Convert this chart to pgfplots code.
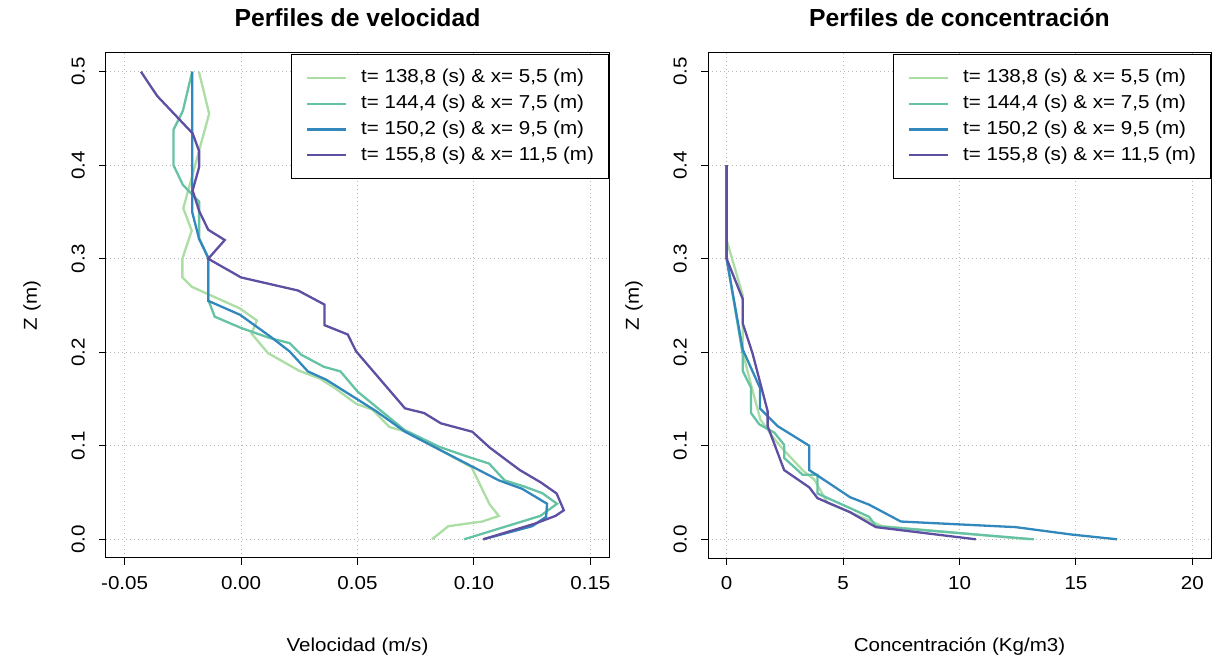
\documentclass[border=0pt]{standalone}
\usepackage{fontspec}
\setmainfont{Liberation Sans}[FakeStretch=1.1]
\newfontfamily\titlefont{Liberation Sans}
\usepackage{pgfplots}
\pgfplotsset{compat=1.18}
\definecolor{c1}{HTML}{ABDDA4}
\definecolor{c2}{HTML}{66C2A5}
\definecolor{c3}{HTML}{3288BD}
\definecolor{c4}{HTML}{5E4FA2}
\definecolor{gridc}{HTML}{B8B8B8}
\newcommand{\fs}{\fontsize{18.7bp}{22bp}\selectfont}
\pgfplotsset{
 rpanel/.style={
  scale only axis, width=503bp, height=505bp,
  anchor=south west,
  axis line style={line width=1bp, black},
  tick pos=left, tick align=outside,
  major tick length=7bp,
  tick style={line width=1bp, black},
  ymin=-0.02, ymax=0.52,
  ytick={0,0.1,0.2,0.3,0.4,0.5},
  yticklabels={0.0,0.1,0.2,0.3,0.4,0.5},
  grid=major,
  major grid style={line width=1.1bp, gridc, dash pattern=on 1.4bp off 2.6bp},
  tick label style={font=\fs, inner sep=0pt},
  xticklabel style={anchor=north},
  yticklabel style={rotate=90, anchor=south},
  xticklabel shift=11bp, yticklabel shift=14bp,
  label style={font=\fs},
  xlabel style={at={(axis description cs:0.5,-0.1762)}, anchor=center},
  ylabel style={at={(axis description cs:-0.1471,0.5)}, anchor=center},
  title style={font=\titlefont\fontsize{24.7bp}{29bp}\selectfont\bfseries, at={(axis description cs:0.5,1.0574)}, anchor=center},
  legend style={at={(axis description cs:1,1)}, anchor=north east, yshift=-1.5bp, draw=black, line width=1bp, fill=white, inner xsep=14.5bp, inner ysep=14bp, font=\fs, row sep=7.7bp, column sep=14bp, nodes={inner sep=0pt, text height=14bp, text depth=4bp}},
  legend cell align=left,
  legend image code/.code={\draw[#1] (0bp,0bp) -- (39bp,0bp);},
 }
}
\begin{document}
\begin{tikzpicture}
\useasboundingbox (0,0) rectangle (1215bp,659bp);
\begin{axis}[rpanel, at={(106bp,101bp)},
  xmin=-0.058, xmax=0.158,
  xtick={-0.05,0,0.05,0.1,0.15},
  xticklabels={-0.05,0.00,0.05,0.10,0.15},
  xlabel={Velocidad (m/s)}, ylabel={Z (m)},
  title={Perfiles de velocidad}]
\addplot[c1, line width=2.3bp, no markers] coordinates {
(-0.0181,0.500) (-0.0137,0.455) (-0.0248,0.354) (-0.0212,0.330) (-0.0252,0.300)
(-0.0252,0.280) (-0.0212,0.270) (-0.0006,0.247) (0.0068,0.234) (0.0045,0.220)
(0.0116,0.199) (0.0251,0.180) (0.0337,0.172) (0.0401,0.162) (0.0494,0.145)
(0.0565,0.1385) (0.0637,0.120) (0.0710,0.115) (0.0990,0.077) (0.1068,0.037)
(0.1107,0.025) (0.1036,0.019) (0.0890,0.014) (0.0820,0.000)};
\addlegendentry{{t= 138,8 (s) \& x= 5,5 (m)}}
\addplot[c2, line width=2.3bp, no markers] coordinates {
(-0.021,0.500) (-0.025,0.458) (-0.029,0.438) (-0.029,0.400) (-0.025,0.379)
(-0.018,0.361) (-0.018,0.322) (-0.0141,0.301) (-0.0141,0.256) (-0.0113,0.238)
(0.0000,0.226) (0.0123,0.2152) (0.0208,0.2098) (0.0259,0.1973) (0.0355,0.1845)
(0.0427,0.1795) (0.0500,0.158) (0.0701,0.117) (0.0850,0.099) (0.0965,0.089)
(0.1065,0.081) (0.1132,0.063) (0.1215,0.0565) (0.1293,0.0494) (0.1357,0.038)
(0.1285,0.025) (0.0958,0.000)};
\addlegendentry{{t= 144,4 (s) \& x= 7,5 (m)}}
\addplot[c3, line width=2.3bp, no markers] coordinates {
(-0.021,0.500) (-0.021,0.350) (-0.018,0.321) (-0.0141,0.301) (-0.0141,0.255)
(-0.0004,0.240) (0.0130,0.216) (0.0208,0.201) (0.0287,0.1795) (0.0366,0.1706)
(0.0580,0.137) (0.0704,0.115) (0.1107,0.063) (0.1207,0.054) (0.1314,0.038)
(0.1310,0.024) (0.1250,0.014) (0.1040,0.000)};
\addlegendentry{{t= 150,2 (s) \& x= 9,5 (m)}}
\addplot[c4, line width=2.3bp, no markers] coordinates {
(-0.043,0.500) (-0.036,0.474) (-0.0208,0.434) (-0.018,0.415) (-0.018,0.398)
(-0.0208,0.373) (-0.018,0.351) (-0.0141,0.331) (-0.007,0.320) (-0.0141,0.300)
(0.0000,0.280) (0.0245,0.266) (0.0358,0.251) (0.0358,0.229) (0.0458,0.219)
(0.0494,0.201) (0.0704,0.140) (0.0786,0.135) (0.0858,0.124) (0.0993,0.115)
(0.1068,0.098) (0.1197,0.074) (0.1286,0.061) (0.1355,0.049) (0.1386,0.031)
(0.1350,0.025) (0.1265,0.017) (0.1040,0.000)};
\addlegendentry{{t= 155,8 (s) \& x= 11,5 (m)}}
\end{axis}
\begin{axis}[rpanel, at={(708bp,101bp)},
  xmin=-0.8, xmax=20.8,
  xtick={0,5,10,15,20},
  xticklabels={0,5,10,15,20},
  xlabel={Concentración (Kg/m3)}, ylabel={Z (m)},
  title={Perfiles de concentración}]
\addplot[c1, line width=2.3bp, no markers] coordinates {
(0,0.400) (0,0.320) (0.69,0.261) (0.69,0.200) (1.05,0.165) (1.45,0.128)
(2.12,0.105) (2.47,0.095) (3.30,0.073) (3.76,0.064) (4.33,0.039) (6.05,0.021)
(6.69,0.014) (13.0,0.000)};
\addlegendentry{{t= 138,8 (s) \& x= 5,5 (m)}}
\addplot[c2, line width=2.3bp, no markers] coordinates {
(0,0.400) (0,0.300) (0.69,0.198) (0.69,0.180) (1.05,0.162) (1.05,0.135)
(1.40,0.123) (2.05,0.114) (2.47,0.101) (2.47,0.087) (3.26,0.069) (3.90,0.069)
(3.90,0.049) (5.33,0.033) (6.12,0.024) (6.41,0.014) (13.19,0.000)};
\addlegendentry{{t= 144,4 (s) \& x= 7,5 (m)}}
\addplot[c3, line width=2.3bp, no markers] coordinates {
(0,0.400) (0,0.300) (0.69,0.203) (1.43,0.162) (1.43,0.140) (2.19,0.121)
(3.55,0.100) (3.55,0.074) (5.30,0.045) (6.12,0.037) (7.48,0.019) (12.41,0.013)
(14.84,0.005) (16.77,0.000)};
\addlegendentry{{t= 150,2 (s) \& x= 9,5 (m)}}
\addplot[c4, line width=2.3bp, no markers] coordinates {
(0,0.400) (0,0.300) (0.69,0.257) (0.69,0.231) (1.11,0.199) (1.76,0.137)
(1.76,0.121) (2.47,0.074) (3.55,0.0555) (3.90,0.044) (5.30,0.029) (6.41,0.013)
(10.7,0.000)};
\addlegendentry{{t= 155,8 (s) \& x= 11,5 (m)}}
\end{axis}
\end{tikzpicture}
\end{document}
